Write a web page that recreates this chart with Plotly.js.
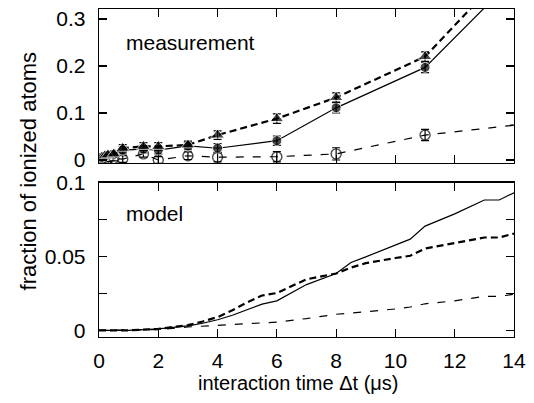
<!DOCTYPE html>
<html>
<head>
<meta charset="utf-8">
<script src="https://cdn.plot.ly/plotly-3.0.1.min.js"></script>
<style>html,body{margin:0;padding:0;background:#fff;}#chart{width:534px;height:403px;}</style>
</head>
<body>
<div id="chart"></div>
<script>
// measurement data (time in µs)
const xMeas = [0.1, 0.2, 0.3, 0.5, 0.8, 1.5, 2, 3, 4, 6, 8, 11, 14];
const measSolid = [0.006, 0.008, 0.010, 0.012, 0.021, 0.023, 0.021, 0.030, 0.025, 0.041, 0.111, 0.197, 0.387];
const measSolidErr = [0.006, 0.006, 0.006, 0.006, 0.008, 0.008, 0.008, 0.008, 0.010, 0.010, 0.011, 0.011, 0];
const measTri = [0.006, 0.009, 0.011, 0.013, 0.025, 0.029, 0.029, 0.032, 0.053, 0.088, 0.133, 0.220, 0.42];
const measTriErr = [0.006, 0.006, 0.006, 0.006, 0.008, 0.008, 0.008, 0.008, 0.009, 0.010, 0.010, 0.010, 0];
const measOpen = [0.001, 0.002, 0.002, 0.003, 0.002, 0.013, 0.000, 0.009, 0.006, 0.007, 0.013, 0.053, 0.074];
const measOpenErr = [0.005, 0.005, 0.005, 0.005, 0.007, 0.007, 0.007, 0.008, 0.010, 0.011, 0.013, 0.012, 0];
const markerShown = [1,1,1,1,1,1,1,1,1,1,1,1,0];

// model data
const xModel = [0, 1, 2, 3, 3.5, 4, 4.5, 5, 5.5, 6, 7, 8, 8.5, 9, 10, 10.5, 11, 12, 13, 13.5, 14];
const modelSolid = [0, 0, 0.001, 0.003, 0.0048, 0.0072, 0.0102, 0.014, 0.0178, 0.020, 0.031, 0.0385, 0.046, 0.0498, 0.0575, 0.0618, 0.0706, 0.0789, 0.0883, 0.0883, 0.0932];
const modelThick = [0, 0, 0.001, 0.0035, 0.006, 0.009, 0.0136, 0.019, 0.0236, 0.0253, 0.0346, 0.0385, 0.0425, 0.0455, 0.049, 0.0505, 0.0554, 0.0593, 0.0629, 0.0629, 0.0656];
const modelThin = [0, 0, 0.0005, 0.0023, 0.0028, 0.0035, 0.004, 0.0045, 0.005, 0.0056, 0.008, 0.0109, 0.0117, 0.0125, 0.0145, 0.0158, 0.018, 0.020, 0.023, 0.023, 0.0245];

const xTicks = [0, 2, 4, 6, 8, 10, 12, 14];
const topYTicks = [0, 0.1, 0.2, 0.3];
const topYText = ["0", "0.1", "0.2", "0.3"];
const botYTicks = [0, 0.025, 0.05, 0.075, 0.1];
const botYText = ["0", "", "0.05", "", "0.1"];

const FONT = "Liberation Sans, Arial, sans-serif";
const K = "#000";

function errCfg(arr){ return {type:'data', array:arr, visible:true, color:K, thickness:1.2, width:4}; }
function sizes(s){ return markerShown.map(v => v ? s : 0); }

const traces = [
  {x:xMeas, y:measOpen, error_y:errCfg(measOpenErr), mode:'lines+markers', xaxis:'x', yaxis:'y',
   line:{color:K, width:1.2, dash:'8px,9px'},
   marker:{symbol:'circle-open', size:sizes(10), color:K, line:{width:1.4, color:K}}},
  {x:xMeas, y:measSolid, error_y:errCfg(measSolidErr), mode:'lines+markers', xaxis:'x', yaxis:'y',
   line:{color:K, width:1.2},
   marker:{symbol:'circle', size:sizes(10), color:K}},
  {x:xMeas, y:measTri, error_y:errCfg(measTriErr), mode:'lines+markers', xaxis:'x', yaxis:'y',
   line:{color:K, width:2.2, dash:'7px,4px'},
   marker:{symbol:'triangle-up', size:sizes(12), color:K}},
  {x:xModel, y:modelThin, mode:'lines', xaxis:'x2', yaxis:'y2', line:{color:K, width:1.2, dash:'8px,9px'}},
  {x:xModel, y:modelSolid, mode:'lines', xaxis:'x2', yaxis:'y2', line:{color:K, width:1.2}},
  {x:xModel, y:modelThick, mode:'lines', xaxis:'x2', yaxis:'y2', line:{color:K, width:2.2, dash:'7px,4px'}}
];

const axCommon = {
  showgrid:false, zeroline:false, showline:true, linecolor:K, linewidth:1.3, mirror:'allticks',
  ticks:'inside', ticklen:8, tickwidth:1.2, tickcolor:K,
  tickfont:{family:FONT, size:21, color:K}
};

const layout = {
  width:534, height:403,
  margin:{l:99, r:20, t:9, b:66},
  paper_bgcolor:'#fff', plot_bgcolor:'#fff',
  showlegend:false,
  xaxis:Object.assign({}, axCommon, {range:[0,14], tickvals:xTicks, showticklabels:false, anchor:'y', domain:[0,1]}),
  yaxis:Object.assign({}, axCommon, {range:[-0.0064,0.3213], tickvals:topYTicks, ticktext:topYText, domain:[0.5305,1], anchor:'x', ticklabelstandoff:8}),
  xaxis2:Object.assign({}, axCommon, {range:[0,14], tickvals:xTicks, anchor:'y2', domain:[0,1], ticklabelstandoff:4}),
  yaxis2:Object.assign({}, axCommon, {range:[-0.0045,0.1], tickvals:botYTicks, ticktext:botYText, domain:[0,0.4704], anchor:'x2', ticklabelstandoff:8}),
  annotations:[
    {text:'measurement', xref:'x domain', yref:'y domain', x:0.06, y:0.78, xanchor:'left', yanchor:'middle', showarrow:false,
     font:{family:FONT, size:21, color:K}},
    {text:'model', xref:'x2 domain', yref:'y2 domain', x:0.06, y:0.80, xanchor:'left', yanchor:'middle', showarrow:false,
     font:{family:FONT, size:21, color:K}},
    {text:'interaction time Δt (μs)', xref:'paper', yref:'paper', x:0.48, y:-0.14, xanchor:'center', yanchor:'middle', showarrow:false,
     font:{family:FONT, size:20, color:K}},
    {text:'fraction of ionized atoms', xref:'paper', yref:'paper', x:-0.171, y:0.505, xanchor:'center', yanchor:'middle', showarrow:false, textangle:-90,
     font:{family:FONT, size:22, color:K}}
  ]
};

Plotly.newPlot('chart', traces, layout, {displayModeBar:false, staticPlot:true});
</script>
</body>
</html>
